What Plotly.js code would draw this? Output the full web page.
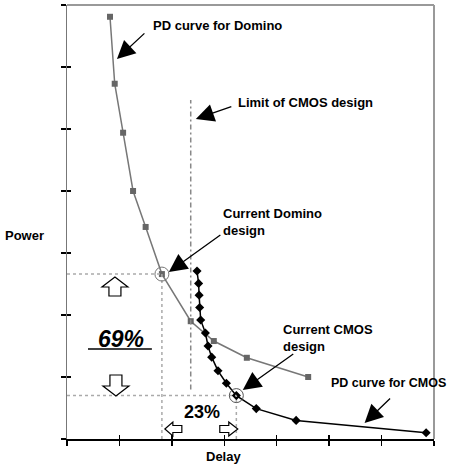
<!DOCTYPE html>
<html>
<head>
<meta charset="utf-8">
<script src="https://cdn.plot.ly/plotly-3.0.1.min.js"></script>
<style>html,body{margin:0;padding:0;background:#fff;}#chart{width:450px;height:464px;}</style>
</head>
<body>
<div id="chart"></div>
<script>
// Domino power-delay curve (delay, power) in axis units
const dominoDelay = [0.82, 0.91, 1.07, 1.26, 1.50, 1.81, 2.36, 2.80, 3.43, 4.60];
const dominoPower = [6.81, 5.73, 4.94, 4.00, 3.42, 2.66, 1.90, 1.58, 1.31, 1.00];
// CMOS power-delay curve
const cmosDelay = [2.48, 2.51, 2.52, 2.53, 2.55, 2.64, 2.69, 2.76, 2.88, 3.04, 3.23, 3.61, 4.37, 6.85];
const cmosPower = [2.71, 2.51, 2.32, 2.12, 1.92, 1.71, 1.50, 1.32, 1.10, 0.90, 0.70, 0.49, 0.30, 0.10];
const currentDominoIdx = 5;
const currentCmosIdx = 10;
const cmosLimitDelay = 2.36;
const tickVals = [0, 1, 2, 3, 4, 5, 6, 7];
const pctPower = "69%";
const pctDelay = "23%";

// plot area in pixels
const L = 67, R = 434.5, T = 5, B = 439;
const X0 = 0, X1 = 7, Y0 = 0, Y1 = 7;
const px2x = p => X0 + (p - L) / (R - L) * (X1 - X0);
const py2y = p => Y0 + (B - p) / (B - T) * (Y1 - Y0);
const x2px = x => L + (x - X0) / (X1 - X0) * (R - L);
const y2py = y => B - (y - Y0) / (Y1 - Y0) * (B - T);

const dx = dominoDelay[currentDominoIdx], dy = dominoPower[currentDominoIdx];
const cx = cmosDelay[currentCmosIdx], cy = cmosPower[currentCmosIdx];

function pathPx(pts) {
  return 'M ' + pts.map(p => px2x(p[0]) + ',' + py2y(p[1])).join(' L ') + ' Z';
}
function upArrow(xc, top, headBase, bottom, hw, sw) {
  return pathPx([[xc, top], [xc + hw, headBase], [xc + sw, headBase], [xc + sw, bottom], [xc - sw, bottom], [xc - sw, headBase], [xc - hw, headBase]]);
}
function downArrow(xc, top, headBase, tip, hw, sw) {
  return pathPx([[xc - sw, top], [xc + sw, top], [xc + sw, headBase], [xc + hw, headBase], [xc, tip], [xc - hw, headBase], [xc - sw, headBase]]);
}
function leftArrow(tip, headBase, end, yc, hh, sh) {
  return pathPx([[tip, yc], [headBase, yc - hh], [headBase, yc - sh], [end, yc - sh], [end, yc + sh], [headBase, yc + sh], [headBase, yc + hh]]);
}
function rightArrow(start, headBase, tip, yc, hh, sh) {
  return pathPx([[start, yc - sh], [headBase, yc - sh], [headBase, yc - hh], [tip, yc], [headBase, yc + hh], [headBase, yc + sh], [start, yc + sh]]);
}

const dotted = {color: '#aaaaaa', width: 1.5, dash: 'dot'};
const rad = 7;
const shapes = [
  // frame top and right
  {type: 'line', xref: 'paper', yref: 'paper', x0: 0, x1: 1, y0: 1, y1: 1, line: {color: '#999', width: 2}},
  {type: 'line', xref: 'paper', yref: 'paper', x0: 1, x1: 1, y0: 0, y1: 1, line: {color: '#999', width: 2}},
  // dotted guides
  {type: 'line', x0: X0, x1: dx, y0: dy, y1: dy, line: dotted},
  {type: 'line', x0: dx, x1: dx, y0: Y0, y1: dy, line: dotted},
  {type: 'line', x0: X0, x1: cx, y0: cy, y1: cy, line: dotted},
  {type: 'line', x0: cx, x1: cx, y0: Y0, y1: cy, line: dotted},
  // limit of CMOS design
  {type: 'line', x0: cmosLimitDelay, x1: cmosLimitDelay, y0: cy + 0.1, y1: py2y(100), line: {color: '#888', width: 1.5, dash: '5px,3px,2px,3px'}},
  // circles
  {type: 'circle', x0: px2x(x2px(dx) - rad), x1: px2x(x2px(dx) + rad), y0: py2y(y2py(dy) + rad), y1: py2y(y2py(dy) - rad), line: {color: '#777', width: 1}},
  {type: 'circle', x0: px2x(x2px(cx) - rad), x1: px2x(x2px(cx) + rad), y0: py2y(y2py(cy) + rad), y1: py2y(y2py(cy) - rad), line: {color: '#555', width: 1}},
  // 69% underline
  {type: 'line', x0: px2x(88), x1: px2x(152), y0: py2y(349), y1: py2y(349), line: {color: '#000', width: 1.5}},
  // block arrows
  {type: 'path', path: upArrow(115, 277, 287, 296, 13, 6), line: {color: '#000', width: 1.2}, fillcolor: '#fff'},
  {type: 'path', path: downArrow(116, 375, 386, 396, 13, 6), line: {color: '#000', width: 1.2}, fillcolor: '#fff'},
  {type: 'path', path: leftArrow(165, 173, 182, 429, 7, 3.5), line: {color: '#000', width: 1.2}, fillcolor: '#fff'},
  {type: 'path', path: rightArrow(220, 229, 238, 429, 7, 3.5), line: {color: '#000', width: 1.2}, fillcolor: '#fff'}
];

const F = 'Liberation Sans, Arial, sans-serif';
const lbl = (text, px, py, extra) => Object.assign({text: text, x: px2x(px), y: py2y(py), xref: 'x', yref: 'y', showarrow: false, xanchor: 'left', yanchor: 'middle', align: 'left', font: {family: F, size: 13, color: '#000'}}, extra || {});
const arr = (hx, hy, tx, ty) => ({text: '', x: px2x(hx), y: py2y(hy), xref: 'x', yref: 'y', ax: tx - hx, ay: ty - hy, showarrow: true, arrowhead: 2, arrowsize: 2.8, arrowwidth: 1.3, arrowcolor: '#000', standoff: 0});

const annotations = [
  lbl('<b>PD curve for Domino</b>', 151, 25),
  arr(117, 59, 146, 32),
  lbl('<b>Limit of CMOS design</b>', 236, 102),
  arr(196, 119, 233, 106),
  lbl('<b>Current Domino<br>design</b>', 221, 222),
  arr(169, 272, 222, 234),
  lbl('<b>Current CMOS<br>design</b>', 281, 338),
  arr(243, 390, 295, 353),
  lbl('<b>PD curve for CMOS</b>', 329, 383, {font: {family: F, size: 12.5, color: '#000'}}),
  arr(365, 423, 392, 397),
  lbl('<b><i>' + pctPower + '</i></b>', 121, 339, {xanchor: 'center', font: {family: F, size: 23, color: '#000'}}),
  lbl('<b>' + pctDelay + '</b>', 202, 412, {xanchor: 'center', font: {family: F, size: 18, color: '#000'}}),
  {text: '<b>Power</b>', xref: 'paper', yref: 'paper', x: (24 - L) / (R - L), y: (B - 235) / (B - T), showarrow: false, xanchor: 'center', yanchor: 'middle', font: {family: F, size: 13, color: '#000'}},
  {text: '<b>Delay</b>', xref: 'paper', yref: 'paper', x: (224 - L) / (R - L), y: (B - 456) / (B - T), showarrow: false, xanchor: 'center', yanchor: 'middle', font: {family: F, size: 13, color: '#000'}}
];

const traces = [
  {x: dominoDelay, y: dominoPower, type: 'scatter', mode: 'lines+markers', line: {color: '#777', width: 1.5}, marker: {symbol: 'square', size: 6, color: '#666'}, hoverinfo: 'skip', cliponaxis: false},
  {x: cmosDelay, y: cmosPower, type: 'scatter', mode: 'lines+markers', line: {color: '#000', width: 1.5}, marker: {symbol: 'diamond', size: 7, color: '#000'}, hoverinfo: 'skip', cliponaxis: false},
  {x: [0], y: [0], xaxis: 'x2', yaxis: 'y2', mode: 'markers', marker: {opacity: 0}, hoverinfo: 'skip'}
];

const axBase = {range: [X0, X1], tickvals: tickVals, showticklabels: false, showgrid: false, zeroline: false, fixedrange: true};
const layout = {
  width: 450, height: 464,
  margin: {l: L, r: 450 - R, t: T, b: 464 - B},
  paper_bgcolor: '#fff', plot_bgcolor: '#fff',
  showlegend: false,
  xaxis: Object.assign({}, axBase, {showline: true, linecolor: '#000', linewidth: 1.5, ticks: 'outside', ticklen: 5, tickcolor: '#000', tickwidth: 1.5}),
  yaxis: Object.assign({}, axBase, {range: [Y0, Y1], showline: true, linecolor: '#777', linewidth: 1.5, ticks: 'outside', ticklen: 5, tickcolor: '#000', tickwidth: 1.5}),
  xaxis2: Object.assign({}, axBase, {overlaying: 'x', anchor: 'y2', side: 'bottom', showline: false, ticks: 'inside', ticklen: 4, tickcolor: '#000', tickwidth: 1.5}),
  yaxis2: Object.assign({}, axBase, {range: [Y0, Y1], overlaying: 'y', anchor: 'x2', side: 'left', showline: false, ticks: 'inside', ticklen: 4, tickcolor: '#000', tickwidth: 1.5}),
  shapes: shapes,
  annotations: annotations
};
Plotly.newPlot('chart', traces, layout, {displayModeBar: false, staticPlot: true});
</script>
</body>
</html>
